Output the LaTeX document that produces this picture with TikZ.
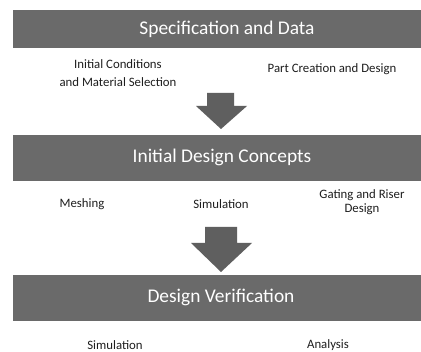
\documentclass[tikz,border=0pt]{standalone}
\usepackage{fontspec}
\setmainfont{Carlito}
\usetikzlibrary{positioning}
\definecolor{bargray}{HTML}{6A6A6A}
\definecolor{arrowgray}{HTML}{5F5F5F}
\definecolor{txtgray}{HTML}{1E1E1E}
\tikzset{
  bar/.style={fill=bargray, draw=none},
  bartext/.style={text=white, font=\fontsize{19.4}{24}\selectfont, inner sep=0pt},
  item/.style={text=txtgray, font=\fontsize{12.8}{18}\selectfont, align=center, inner sep=0pt},
  itembig/.style={item, font=\fontsize{12.8}{14}\selectfont},
  bigarrow/.style={fill=arrowgray, draw=none}
}
\begin{document}
\begin{tikzpicture}[x=1pt,y=-1pt]
\useasboundingbox (0,0) rectangle (421,352);
\fill[white] (0,0) rectangle (421,352);
% bars
\fill[bar] (13,10) rectangle (421,48);
\node[bartext] (b1) at (227,29) {Specification and Data};
\fill[bar] (13,135) rectangle (421,181);
\node[bartext] (b2) at (222,157) {Initial Design Concepts};
\fill[bar] (13,275) rectangle (421,321);
\node[bartext] (b3) at (221,297) {Design Verification};
% items row 1
\node[item] (i1) at (118,73) {Initial Conditions\\and Material Selection};
\node[item] (i2) at (332,69) {Part Creation and Design};
% items row 2
\node[itembig] (m) at (82,204) {Meshing};
\node[itembig] (s) at (221,204) {Simulation};
\node[itembig] (g) at (362,202) {Gating and Riser\\Design};
% items row 3
\node[itembig] (s3) at (115,345) {Simulation};
\node[itembig] (a3) at (328,345) {Analysis};
% arrows
\fill[bigarrow] (207,93) -- (234,93) -- (234,106) -- (247,106) -- (221,129) -- (196,106) -- (207,106) -- cycle;
\fill[bigarrow] (205,227) -- (237,227) -- (237,243) -- (252,243) -- (221,272) -- (191,243) -- (205,243) -- cycle;
\end{tikzpicture}
\end{document}
